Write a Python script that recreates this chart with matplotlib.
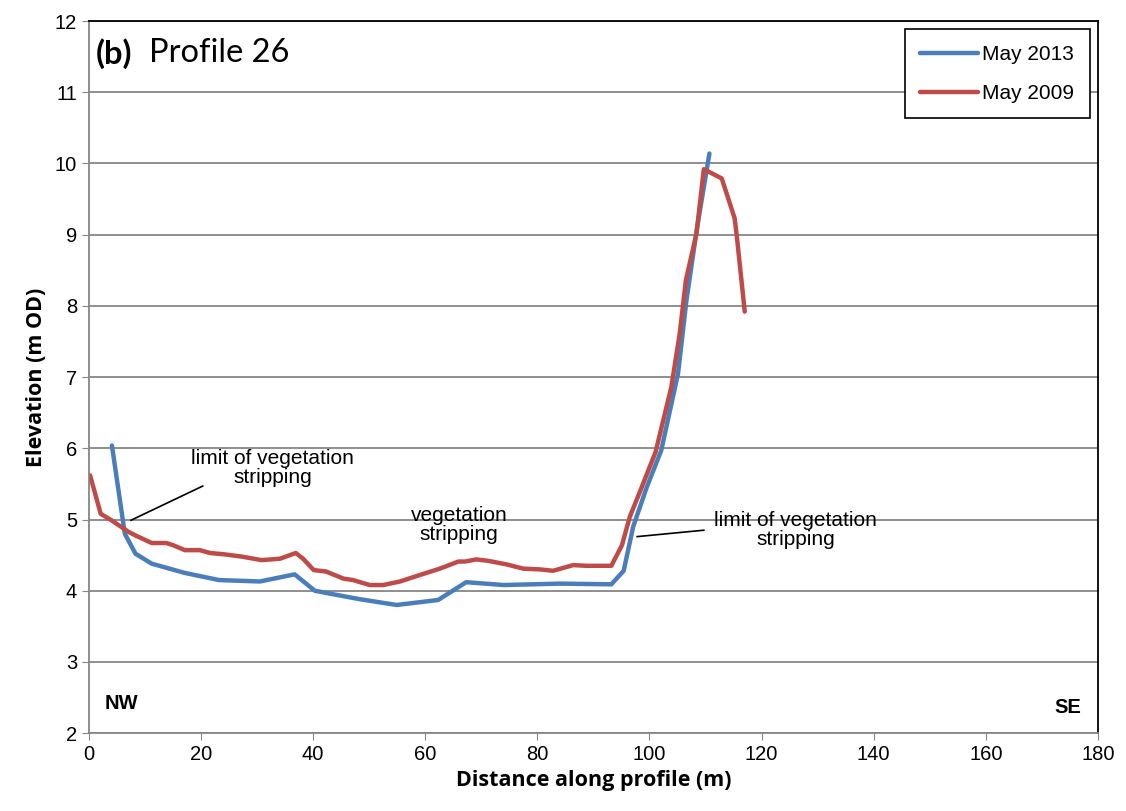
import matplotlib
matplotlib.use('Agg')
import matplotlib.pyplot as plt

plt.rcParams['font.family'] = ['Liberation Sans', 'DejaVu Sans']

# Profile 26 elevations
dist_2013 = [4.1, 6.4, 8.3, 11.2, 17.1, 23.2, 30.5, 36.7, 40.3, 43.6, 48.4, 54.9,
             62.3, 67.3, 74.0, 84.0, 93.2, 95.4, 97.1, 99.5, 102.1, 105.1, 106.6,
             108.5, 110.7]
elev_2013 = [6.04, 4.80, 4.52, 4.38, 4.25, 4.15, 4.13, 4.23, 4.00, 3.95, 3.88, 3.80,
             3.87, 4.12, 4.08, 4.10, 4.09, 4.28, 4.90, 5.45, 5.97, 7.05, 8.08,
             9.10, 10.14]

dist_2009 = [0.2, 2.1, 4.0, 7.0, 8.2, 11.2, 13.8, 15.0, 17.1, 19.8, 21.6, 24.3,
             27.2, 30.8, 34.1, 36.9, 38.2, 40.1, 42.3, 45.4, 47.1, 50.1, 52.5,
             55.5, 59.0, 62.6, 65.9, 67.1, 69.1, 71.2, 74.5, 77.5, 80.4, 82.8,
             86.4, 88.8, 93.2, 95.1, 96.5, 98.3, 101.1, 103.9, 105.4, 106.5,
             108.4, 109.7, 112.9, 115.2, 115.6, 117.0]
elev_2009 = [5.62, 5.08, 4.99, 4.83, 4.78, 4.67, 4.67, 4.64, 4.57, 4.57, 4.53, 4.51,
             4.48, 4.43, 4.45, 4.53, 4.45, 4.29, 4.27, 4.17, 4.15, 4.08, 4.08,
             4.13, 4.22, 4.31, 4.41, 4.41, 4.44, 4.42, 4.37, 4.31, 4.30, 4.28,
             4.36, 4.35, 4.35, 4.64, 5.04, 5.39, 5.95, 6.86, 7.61, 8.36,
             9.02, 9.92, 9.79, 9.23, 8.97, 7.92]

x_ticks = list(range(0, 181, 20))
y_ticks = list(range(2, 13))

blue = '#4a7ebb'
red = '#be4b48'
grid_grey = '#868686'

fig = plt.figure(figsize=(11.26, 8.11), dpi=100)
ax = fig.add_axes([0.079, 0.096, 0.896, 0.878])

ax.plot(dist_2013, elev_2013, color=blue, lw=3.2, label='May 2013',
        solid_capstyle='round', solid_joinstyle='round')
ax.plot(dist_2009, elev_2009, color=red, lw=3.2, label='May 2009',
        solid_capstyle='round', solid_joinstyle='round')

ax.set_xlim(0, 180)
ax.set_ylim(2, 12)
ax.set_xticks(x_ticks)
ax.set_yticks(y_ticks)
ax.yaxis.grid(True, color=grid_grey, lw=1.3)
ax.set_axisbelow(True)
ax.tick_params(labelsize=14.5, direction='out', length=5, color=grid_grey)

for side in ['left', 'bottom']:
    ax.spines[side].set_color(grid_grey)
    ax.spines[side].set_linewidth(1.3)
for side in ['top', 'right']:
    ax.spines[side].set_color('black')
    ax.spines[side].set_linewidth(1.3)

ax.set_xlabel('Distance along profile (m)', fontsize=15.5, fontweight='bold', labelpad=4,
              family=['Open Sans', 'DejaVu Sans'])
ax.set_ylabel('Elevation (m OD)', fontsize=15.5, fontweight='bold', labelpad=6,
              family=['Open Sans', 'DejaVu Sans'])

# panel title
ax.text(1.3, 11.55, '(b)', fontsize=23.5, fontweight='bold', family='Lato', va='center')
ax.text(10.8, 11.55, 'Profile 26', fontsize=23.5, family='Lato', va='center')

# annotations
ax.text(32.8, 5.73, 'limit of vegetation\nstripping', fontsize=15, ha='center', va='center',
        linespacing=1.0)
ax.plot([20.3, 7.5], [5.47, 4.99], color='black', lw=1.2)
ax.text(66.0, 4.93, 'vegetation\nstripping', fontsize=15, ha='center', va='center',
        linespacing=1.0)
ax.text(126.1, 4.85, 'limit of vegetation\nstripping', fontsize=15, ha='center', va='center',
        linespacing=1.0)
ax.plot([97.8, 109.7], [4.76, 4.85], color='black', lw=1.2)

ax.text(2.8, 2.42, 'NW', fontsize=14.5, fontweight='bold', va='center')
ax.text(177.0, 2.36, 'SE', fontsize=14.5, fontweight='bold', va='center', ha='right')

leg = ax.legend(loc='upper right', fontsize=15, fancybox=False, framealpha=1,
                edgecolor='black', borderaxespad=0.4, handlelength=2.75,
                handletextpad=0.2, labelspacing=0.95, borderpad=0.75)
leg.get_frame().set_linewidth(1.2)

fig.savefig('out.png', dpi=100)
plt.close(fig)
